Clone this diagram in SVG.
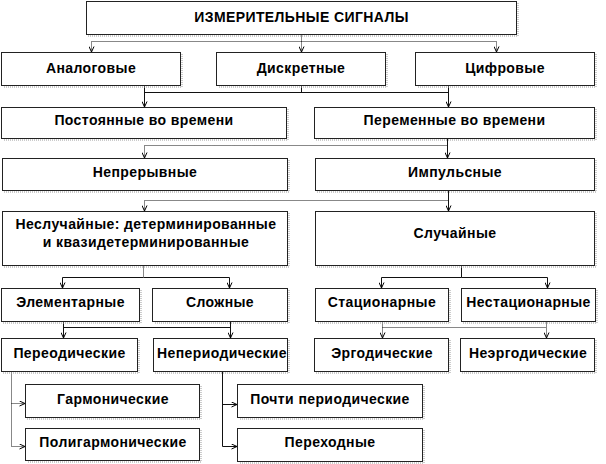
<svg xmlns="http://www.w3.org/2000/svg" width="606" height="464" viewBox="0 0 606 464">
<style>
.box{fill:#fff;stroke:#222;stroke-width:1}
.sh{fill:none;stroke:#999;stroke-width:1;stroke-dasharray:1 1}
.t{font-family:"Liberation Sans",Arial,sans-serif;font-weight:bold;font-size:14px;letter-spacing:0.4px;fill:#000;text-anchor:middle}
.c{fill:none;stroke:#111;stroke-width:1}
.d{fill:none;stroke:#111;stroke-width:1;stroke-dasharray:1 1}
</style>
<defs>
<marker id="a" viewBox="0 0 6 6" refX="6" refY="3" markerWidth="6" markerHeight="6" markerUnits="userSpaceOnUse" orient="auto">
<path d="M0.5,0.5 L6,3 L0.5,5.5" fill="none" stroke="#000" stroke-width="1"/>
</marker>
</defs>
<g id="connectors">
<path class="d" d="M301.5 34.5 V52" marker-end="url(#a)"/>
<path class="d" d="M301.5 41.5 H91.5 V52" marker-end="url(#a)"/>
<path class="d" d="M301.5 41.5 H496.5 V52" marker-end="url(#a)"/>
<path class="c" d="M144.5 85.5 V107" marker-end="url(#a)"/>
<path class="c" d="M448.5 85.5 V107" marker-end="url(#a)"/>
<path class="c" d="M144.5 92.5 H448.5 M301.5 85.5 V92.5"/>
<path class="c" d="M447.5 138.5 V158" marker-end="url(#a)"/>
<path class="d" d="M447.5 145.5 H144.5 V158" marker-end="url(#a)"/>
<path class="c" d="M448.5 190.5 V211" marker-end="url(#a)"/>
<path class="d" d="M448.5 200.5 H144.5 V211" marker-end="url(#a)"/>
<path class="d" d="M143.5 265.5 V277.5"/>
<path class="c" d="M143.5 277.5 H62.5 V288" marker-end="url(#a)"/>
<path class="c" d="M143.5 277.5 H229.5 V288" marker-end="url(#a)"/>
<path class="c" d="M461.5 265.5 V277.5"/>
<path class="c" d="M461.5 277.5 H381.5 V288" marker-end="url(#a)"/>
<path class="c" d="M461.5 277.5 H547.5 V288" marker-end="url(#a)"/>
<path class="c" d="M63.5 321.5 V338" marker-end="url(#a)"/>
<path class="c" d="M230.5 321.5 V338" marker-end="url(#a)"/>
<path class="c" d="M63.5 327.5 H230.5"/>
<path class="d" d="M382.5 321.5 V338" marker-end="url(#a)"/>
<path class="d" d="M546.5 321.5 V338" marker-end="url(#a)"/>
<path class="d" d="M382.5 327.5 H546.5"/>
<path class="d" d="M11.5 371.5 V446.5 H25" marker-end="url(#a)"/>
<path class="d" d="M11.5 403.5 H25" marker-end="url(#a)"/>
<path class="c" d="M222.5 371.5 V446.5 H237" marker-end="url(#a)"/>
<path class="c" d="M222.5 404.5 H237" marker-end="url(#a)"/>
</g>
<g id="n-top"><rect class="box" x="86.5" y="1.5" width="430" height="33"/><path class="sh" d="M518 3 V36 H88"/><text class="t" x="301.5" y="22">ИЗМЕРИТЕЛЬНЫЕ СИГНАЛЫ</text></g>
<g id="n-analog"><rect class="box" x="1.5" y="52.5" width="179" height="33"/><path class="sh" d="M182 54 V87 H3"/><text class="t" x="91" y="73">Аналоговые</text></g>
<g id="n-discrete"><rect class="box" x="216.5" y="52.5" width="169" height="33"/><path class="sh" d="M387 54 V87 H218"/><text class="t" x="301" y="73">Дискретные</text></g>
<g id="n-digital"><rect class="box" x="415.5" y="52.5" width="179" height="33"/><path class="sh" d="M596 54 V87 H417"/><text class="t" x="505" y="73">Цифровые</text></g>
<g id="n-const"><rect class="box" x="1.5" y="107.5" width="285" height="31"/><path class="sh" d="M288 109 V140 H3"/><text class="t" x="144" y="125">Постоянные во времени</text></g>
<g id="n-var"><rect class="box" x="314.5" y="107.5" width="280" height="31"/><path class="sh" d="M596 109 V140 H316"/><text class="t" x="454.5" y="125">Переменные во времени</text></g>
<g id="n-cont"><rect class="box" x="2.5" y="158.5" width="285" height="32"/><path class="sh" d="M289 160 V192 H4"/><text class="t" x="145" y="177">Непрерывные</text></g>
<g id="n-imp"><rect class="box" x="315.5" y="158.5" width="279" height="32"/><path class="sh" d="M596 160 V192 H317"/><text class="t" x="455" y="177">Импульсные</text></g>
<g id="n-nonrand"><rect class="box" x="2.5" y="211.5" width="285" height="54"/><path class="sh" d="M289 213 V267 H4"/><text class="t" x="146" y="229">Неслучайные: детерминированные</text><text class="t" x="146" y="247">и квазидетерминированные</text></g>
<g id="n-rand"><rect class="box" x="315.5" y="211.5" width="279" height="54"/><path class="sh" d="M596 213 V267 H317"/><text class="t" x="455" y="238">Случайные</text></g>
<g id="n-elem"><rect class="box" x="1.5" y="288.5" width="138" height="33"/><path class="sh" d="M141 290 V323 H3"/><text class="t" x="70.5" y="307">Элементарные</text></g>
<g id="n-complex"><rect class="box" x="152.5" y="288.5" width="135" height="33"/><path class="sh" d="M289 290 V323 H154"/><text class="t" x="220" y="307">Сложные</text></g>
<g id="n-stat"><rect class="box" x="315.5" y="288.5" width="133" height="33"/><path class="sh" d="M450 290 V323 H317"/><text class="t" x="382" y="307">Стационарные</text></g>
<g id="n-nonstat"><rect class="box" x="461.5" y="288.5" width="134" height="33"/><path class="sh" d="M597 290 V323 H463"/><text class="t" x="528.5" y="307">Нестационарные</text></g>
<g id="n-period"><rect class="box" x="1.5" y="338.5" width="136" height="33"/><path class="sh" d="M139 340 V373 H3"/><text class="t" x="69.5" y="358">Переодические</text></g>
<g id="n-aperiod"><rect class="box" x="153.5" y="338.5" width="134" height="33"/><path class="sh" d="M289 340 V373 H155"/><text class="t" x="222" y="358">Непериодические</text></g>
<g id="n-ergod"><rect class="box" x="314.5" y="338.5" width="134" height="33"/><path class="sh" d="M450 340 V373 H316"/><text class="t" x="382" y="358">Эргодические</text></g>
<g id="n-nonergod"><rect class="box" x="460.5" y="338.5" width="134" height="33"/><path class="sh" d="M596 340 V373 H462"/><text class="t" x="528" y="358">Неэргодические</text></g>
<g id="n-harm"><rect class="box" x="25.5" y="384.5" width="174" height="33"/><path class="sh" d="M201 386 V419 H27"/><text class="t" x="113" y="404">Гармонические</text></g>
<g id="n-polyharm"><rect class="box" x="25.5" y="428.5" width="174" height="32"/><path class="sh" d="M201 430 V462 H27"/><text class="t" x="113" y="447">Полигармонические</text></g>
<g id="n-almost"><rect class="box" x="237.5" y="384.5" width="185" height="33"/><path class="sh" d="M424 386 V419 H239"/><text class="t" x="330" y="404">Почти периодические</text></g>
<g id="n-transit"><rect class="box" x="237.5" y="428.5" width="185" height="33"/><path class="sh" d="M424 430 V463 H239"/><text class="t" x="330" y="447">Переходные</text></g>
</svg>
